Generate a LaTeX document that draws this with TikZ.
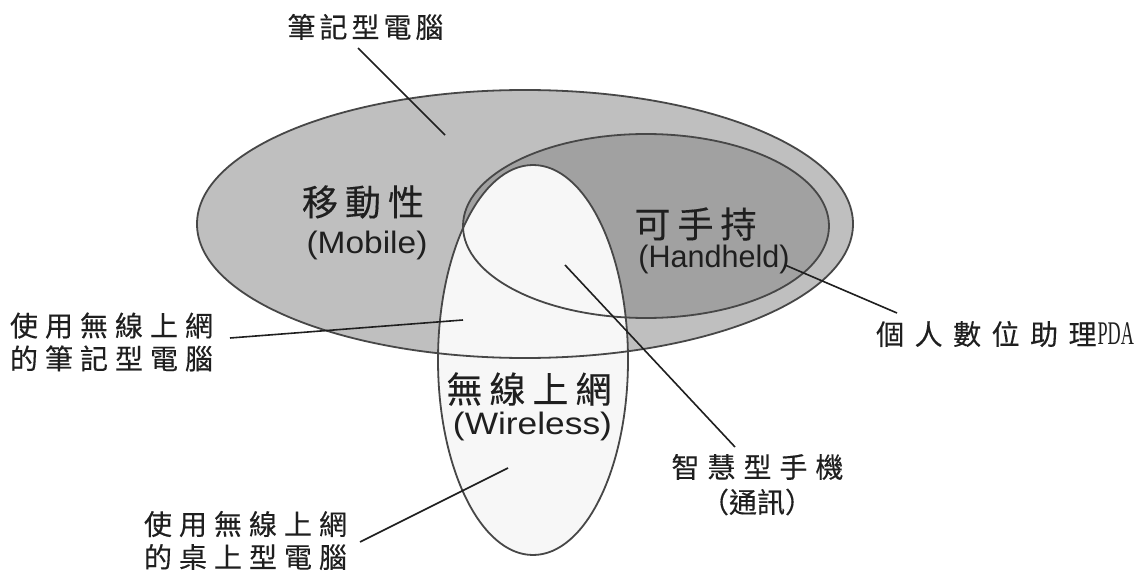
\documentclass[tikz,border=0pt]{standalone}
\usepackage{fontspec}
\setmainfont{Liberation Sans}
\newfontfamily\cjk[FakeBold=0.3]{Noto Sans CJK TC}
\newfontfamily\lserif{Liberation Serif}
\ExplSyntaxOn
\NewDocumentCommand\spaced{mm}{\tl_map_inline:nn{#2}{##1\hspace{#1}}\hspace{-#1}}
\ExplSyntaxOff
\definecolor{mob}{gray}{0.75}
\definecolor{hand}{gray}{0.63}
\definecolor{wire}{gray}{0.97}
\definecolor{edge}{gray}{0.28}
\definecolor{ink}{gray}{0.12}
\begin{document}
\begin{tikzpicture}[x=1pt,y=-1pt,
  outl/.style={draw=edge, line width=1.8pt},
  conn/.style={draw=ink, line width=1.6pt},
  cjks/.style={inner sep=0pt, text=ink, font=\cjk\fontsize{28}{33}\selectfont, align=center},
  cjkl/.style={inner sep=0pt, text=ink, font=\cjk\fontsize{36}{40}\selectfont},
  latl/.style={inner sep=0pt, text=ink, font=\fontsize{31}{36}\selectfont}]
\fill[white] (0,0) rectangle (1146,583);
\useasboundingbox (0,0) rectangle (1146,583);
% regions
\fill[mob] (525,224) ellipse [x radius=328pt, y radius=134pt];
\fill[hand] (646,226) ellipse [x radius=183pt, y radius=92pt];
\fill[wire] (533,360) ellipse [x radius=95pt, y radius=195pt];
\draw[outl] (525,224) ellipse [x radius=328pt, y radius=134pt];
\draw[outl] (646,226) ellipse [x radius=183pt, y radius=92pt];
\draw[outl] (533,360) ellipse [x radius=95pt, y radius=195pt];
% region labels
\node[cjkl] (mobz) at (366.5,202) {\spaced{7pt}{移動性}};
\node[latl] (mobe) at (367,245) {\scalebox{1.08}[1]{(Mobile)}};
\node[cjkl] (handz) at (699,224) {\spaced{7pt}{可手持}};
\node[latl] (hande) at (714,259.5) {\scalebox{0.985}[1]{(Handheld)}};
\node[cjkl] (wirez) at (532.5,389) {\spaced{7pt}{無線上網}};
\node[latl] (wiree) at (532.5,426) {\scalebox{1.14}[1]{(Wireless)}};
% outer labels
\node[cjks] (nb) at (365.5,27) {\spaced{4pt}{筆記型電腦}};
\node[cjks] (wnb) at (115,342) {\spaced{7pt}{使用無線上網}\\\spaced{7pt}{的筆記型電腦}};
\node[cjks] (pda) at (1005,334) {\spaced{10.5pt}{個人數位助理}\hspace{1pt}{\lserif\fontsize{33}{33}\selectfont\scalebox{0.55}[1]{PDA}}};
\node[cjks] (sp1) at (757.5,467) {\spaced{8pt}{智慧型手機}};
\node[cjks] (sp2) at (757,502) {（通訊）};
\node[cjks] (wdt) at (249,540.5) {\spaced{7pt}{使用無線上網}\\\spaced{7pt}{的桌上型電腦}};
% connector ends
\coordinate (nbA) at (358,48);   \coordinate (nbB) at (445,135);
\coordinate (wnbA) at (230,338); \coordinate (wnbB) at (463,320);
\coordinate (pdaA) at (897,313); \coordinate (pdaB) at (785,265);
\coordinate (spA) at (735,447);  \coordinate (spB) at (565,265);
\coordinate (wdtA) at (360,542); \coordinate (wdtB) at (508,468);
\draw[conn] (nbA) -- (nbB);
\draw[conn] (wnbA) -- (wnbB);
\draw[conn] (pdaA) -- (pdaB);
\draw[conn] (spA) -- (spB);
\draw[conn] (wdtA) -- (wdtB);
\end{tikzpicture}
\end{document}
